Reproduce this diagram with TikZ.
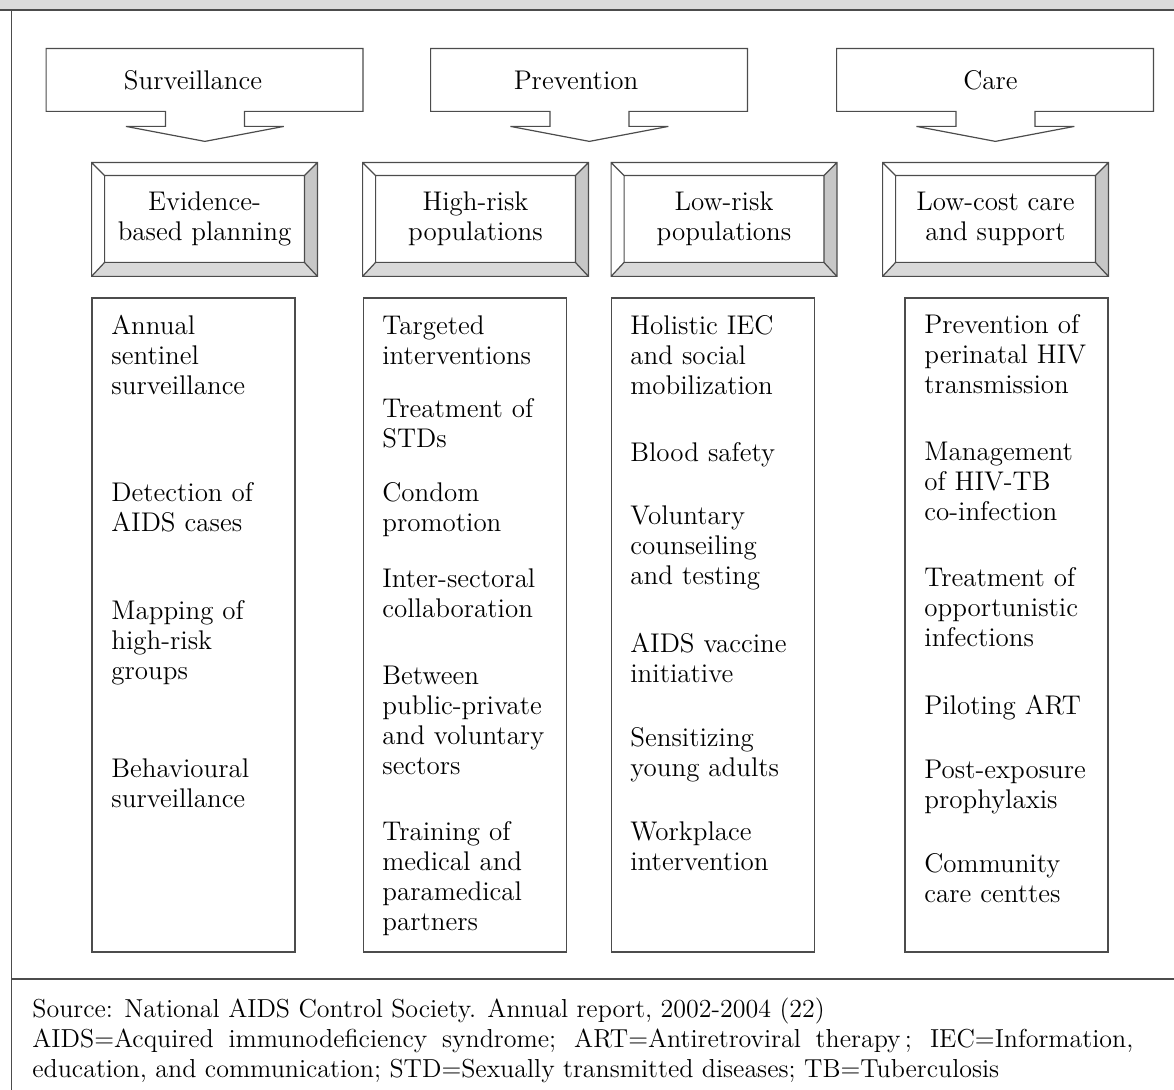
\documentclass[tikz,border=0pt]{standalone}
\usepackage{fontspec}

\newcommand{\boxfont}{\fontsize{13.5}{15}\selectfont}
\newcommand{\notefont}{\fontsize{13}{14.75}\selectfont}

\tikzset{
  frameline/.style={draw=black!70, line width=0.6pt},
  callout/.style={minimum width=158pt, minimum height=31pt, inner sep=0pt},
  bevelout/.style={minimum width=112.5pt, minimum height=56.5pt, inner sep=0pt},
  bevelin/.style={minimum width=99.5pt, minimum height=43pt, inner sep=0pt, align=center, font=\boxfont},
  listbox/.style={frameline, minimum width=101.5pt, minimum height=327pt, inner sep=0pt},
  listitem/.style={anchor=base west, inner sep=0pt, text width=95pt, align=left, font=\boxfont}
}

\begin{document}
\begin{tikzpicture}[x=0.5pt,y=-0.5pt]
        \useasboundingbox (0,0) rectangle (1174,1090);

        % frame
        \fill[black!14] (0,0) rectangle (1174,10);
        \draw[frameline] (0,10) -- (1174,10);
        \draw[frameline] (11.5,10) -- (11.5,1090);
        \draw[frameline] (11.5,979) -- (1174,979);

        % headings with arrows
        \foreach \n/\x/\tx/\txt in {surv/204.5/193/Surveillance, prev/589/576/Prevention, care/995/990.5/Care} {
          \node[callout] (\n) at (\x,80) {};
          \node[font=\boxfont, inner sep=0pt] (\n-t) at (\tx,80) {\txt};
          \draw[frameline] (\n.south west) -- (\n.north west) -- (\n.north east) -- (\n.south east)
            -- ++(-118.5,0) -- ++(0,15) -- ++(39.5,0) -- ++(-79,15) -- ++(-79,-15) -- ++(39.5,0) -- ++(0,-15) -- cycle;
        }

        % bevelled boxes
        \foreach \n/\x/\txt in {ebp/204.5/{Evidence-\\based planning}, hrp/475.5/{High-risk\\populations},
                                 lrp/724/{Low-risk\\populations}, lcc/995.5/{Low-cost care\\and support}} {
          \node[bevelout] (\n-o) at (\x,219.5) {};
          \node[bevelin] (\n) at (\x,219) {\txt};
          \fill[black!22] (\n-o.north east) -- (\n-o.south east) -- (\n.south east) -- (\n.north east) -- cycle;
          \fill[black!15] (\n-o.south west) -- (\n-o.south east) -- (\n.south east) -- (\n.south west) -- cycle;
          \draw[frameline] (\n-o.north west) rectangle (\n-o.south east) (\n.north west) rectangle (\n.south east)
            (\n-o.north west) -- (\n.north west) (\n-o.north east) -- (\n.north east)
            (\n-o.south west) -- (\n.south west) (\n-o.south east) -- (\n.south east);
        }

        % lists
        \node[listbox] (svl) at (193.5,625) {};
        \node[listbox] (hrl) at (465,625) {};
        \node[listbox] (lrl) at (713,625) {};
        \node[listbox] (lcl) at (1006.5,625) {};

        \node[listitem] (sv1) at (111,335) {Annual\\sentinel\\surveillance};
        \node[listitem] (sv2) at (111,502) {Detection of\\AIDS cases};
        \node[listitem] (sv3) at (111,620) {Mapping of\\high-risk\\groups};
        \node[listitem] (sv4) at (111,778) {Behavioural\\surveillance};

        \node[listitem] (hr1) at (382,335) {Targeted\\interventions};
        \node[listitem] (hr2) at (382,418) {Treatment of\\STDs};
        \node[listitem] (hr3) at (382,502) {Condom\\promotion};
        \node[listitem] (hr4) at (382,588) {Inter-sectoral\\collaboration};
        \node[listitem] (hr5) at (382,685) {Between\\public-private\\and voluntary\\sectors};
        \node[listitem] (hr6) at (382,841) {Training of\\medical and\\paramedical\\partners};

        \node[listitem] (lr1) at (630,335) {Holistic IEC\\and social\\mobilization};
        \node[listitem] (lr2) at (630,462) {Blood safety};
        \node[listitem] (lr3) at (630,525) {Voluntary\\counseiling\\and testing};
        \node[listitem] (lr4) at (630,653) {AIDS vaccine\\initiative};
        \node[listitem] (lr5) at (630,747) {Sensitizing\\young adults};
        \node[listitem] (lr6) at (630,841) {Workplace\\intervention};

        \node[listitem] (lc1) at (924,334) {Prevention of\\perinatal HIV\\transmission};
        \node[listitem] (lc2) at (924,461) {Management\\of HIV-TB\\co-infection};
        \node[listitem] (lc3) at (924,587) {Treatment of\\opportunistic\\infections};
        \node[listitem] (lc4) at (924,715) {Piloting ART};
        \node[listitem] (lc5) at (924,779) {Post-exposure\\prophylaxis};
        \node[listitem] (lc6) at (924,873) {Community\\care centtes};

        % footnote
        \node[anchor=base west, inner sep=0pt, text width=550.5pt, align=justify, font=\notefont] (note) at (32,1018)
          {Source: National AIDS Control Society. Annual report, 2002-2004 (22)\\
           AIDS=Acquired immunodeficiency syndrome; ART=Antiretroviral therapy\,; IEC=Information,\linebreak
           education, and communication; STD=Sexually transmitted diseases; TB=Tuberculosis};
      \end{tikzpicture}
\end{document}
